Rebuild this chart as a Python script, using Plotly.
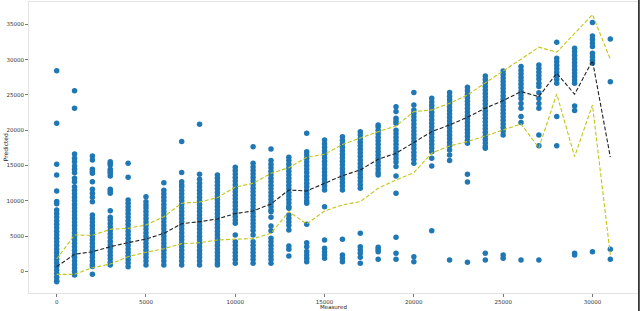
import plotly.graph_objects as go

# Measured values (x positions of the columns)
measured = [0, 1000, 2000, 3000, 4000, 5000, 6000, 7000, 8000, 9000, 10000,
            11000, 12000, 13000, 14000, 15000, 16000, 17000, 18000, 19000, 20000,
            21000, 22000, 23000, 24000, 25000, 26000, 27000, 28000, 29000, 30000, 31000]

# Predicted values per measured column
y_00000 = [28440, 20990, 15180, 13670, 11400, 9900, 9600, 8700, 8200, 7700, 7200, 6700, 6200, 5700, 5200, 4700, 4200, 3700, 3200, 2700, 2200, 1700, 1200, 700, 200, -300, -800, -1300, -1450]
y_01000 = [25600, 23100, 16640, 16030, 15550, 14940, 14470, 13990, 13200, 12720, 12010, 11500, 11000, 10500, 10000, 9500, 9000, 8500, 8000, 7500, 7000, 6500, 6000, 5500, 5000, 4500, 4000, 3500, 3000, 2500, 2000, 1500, 1000, 500, 0, -500]
y_02000 = [16360, 15790, 14470, 14200, 13900, 12720, 11640, 11080, 10510, 9890, 8000, 7500, 7000, 6500, 6000, 5500, 5000, 4500, 4000, 3500, 3000, 2500, 2000, 1500, 1000, 700, -400]
y_03000 = [15550, 15300, 15080, 14470, 14200, 13900, 13530, 11640, 11350, 11080, 8610, 7680, 7300, 6800, 6300, 5800, 5300, 4800, 4300, 3800, 3300, 2800, 2300, 1800, 1300, 920]
y_04000 = [15320, 13340, 10130, 9660, 9180, 8700, 8200, 7700, 7200, 6700, 6200, 5700, 5200, 4700, 4200, 3700, 3200, 2700, 2200, 1700, 1200, 680]
y_05000 = [10600, 9890, 9420, 9000, 8500, 8000, 7500, 7000, 6500, 6000, 5500, 5000, 4500, 4000, 3500, 3000, 2500, 2000, 1500, 920]
y_06000 = [12580, 11500, 11000, 10500, 10000, 9500, 9000, 8500, 8000, 7500, 7000, 6500, 6000, 5500, 5000, 4500, 4000, 3500, 3000, 2500, 2000, 1500, 920]
y_07000 = [18390, 14000, 12720, 12250, 12000, 11500, 11000, 10500, 10000, 9500, 9000, 8500, 8000, 7500, 7000, 6500, 6000, 5500, 5000, 4500, 4000, 3500, 3000, 2500, 2000, 1500, 920]
y_08000 = [20850, 13770, 13060, 12500, 12000, 11500, 11000, 10500, 10000, 9500, 9000, 8500, 8000, 7500, 7000, 6500, 6000, 5500, 5000, 4500, 4000, 3500, 3000, 2500, 2000, 1500, 920]
y_09000 = [13670, 13200, 12700, 12200, 11700, 11200, 10700, 10200, 9700, 9200, 8700, 8200, 7700, 7200, 6700, 6200, 5700, 5200, 4700, 4200, 3700, 3200, 2700, 2200, 1700, 1200, 920]
y_10000 = [14760, 14300, 13800, 13300, 12800, 12300, 11800, 11300, 10800, 10300, 9800, 9300, 8800, 8300, 7800, 7300, 6830, 5170, 4220, 3700, 3200, 2700, 2200, 1700, 1160]
y_11000 = [17680, 15320, 14800, 14300, 13800, 13300, 12800, 12300, 11800, 11300, 10800, 10300, 9800, 9300, 8800, 8300, 7800, 7300, 6800, 6300, 5800, 5170, 4220, 3700, 3200, 2700, 2200, 1700, 1160]
y_12000 = [17350, 15700, 15200, 14700, 14200, 13700, 13200, 12700, 12200, 11700, 11200, 10700, 10200, 9700, 9200, 8700, 8470, 7680, 6440, 5780, 4700, 4200, 3700, 3200, 2700, 2200, 1700, 1160]
y_13000 = [16170, 15700, 15200, 14700, 14200, 13700, 13200, 12700, 12200, 11700, 11200, 10700, 10200, 9700, 9200, 8950, 8000, 7500, 7000, 6500, 5880, 3610, 3140, 2200]
y_14000 = [19570, 16970, 16500, 16000, 15500, 15000, 14500, 14000, 13500, 13000, 12500, 12000, 11500, 11000, 10500, 10000, 9660, 6690, 4080, 3510, 2820, 2340, 1870, 1390]
y_15000 = [18630, 18100, 17600, 17100, 16600, 16100, 15600, 15100, 14600, 14100, 13600, 13100, 12600, 12100, 11540, 9180, 4460, 3290, 2800, 2340, 1870]
y_16000 = [19090, 18600, 18100, 17600, 17100, 16600, 16100, 15600, 15100, 14600, 14100, 13600, 13100, 12600, 12100, 11540, 4560, 2340, 1870, 1390]
y_17000 = [19800, 19330, 18800, 18300, 17800, 17300, 16800, 16300, 15800, 15300, 14800, 14300, 13800, 13300, 12800, 12300, 11780, 5410, 3520, 3050, 2580, 2010, 1160]
y_18000 = [20750, 20510, 20000, 19500, 19000, 18500, 18000, 17500, 17000, 16500, 16000, 15500, 15000, 14500, 14000, 13670, 3430, 3100, 2800, 1730]
y_19000 = [23340, 22640, 21700, 21300, 20990, 20000, 19500, 19000, 18500, 18000, 17500, 17000, 16500, 16000, 15500, 14850, 13530, 11080, 4840, 2580, 1730]
y_20000 = [25330, 23580, 22880, 22400, 21900, 21400, 20900, 20400, 19900, 19400, 18900, 18400, 17900, 17400, 16900, 16400, 15900, 15320, 2100, 1390]
y_21000 = [24530, 24000, 23500, 23000, 22500, 22000, 21500, 21000, 20500, 20000, 19500, 19000, 18500, 18000, 17500, 16970, 16030, 14940, 5780]
y_22000 = [25330, 24800, 24300, 23800, 23300, 22800, 22300, 21800, 21300, 20800, 20300, 19800, 19300, 18800, 18300, 17800, 17210, 16500, 15700, 1630]
y_23000 = [26090, 25600, 25100, 24600, 24100, 23600, 23100, 22600, 22100, 21600, 21100, 20600, 20100, 19600, 19100, 18600, 18160, 13770, 12680, 1300]
y_24000 = [27690, 27200, 26700, 26200, 25700, 25200, 24700, 24200, 23700, 23200, 22700, 22200, 21700, 21200, 20700, 20200, 19700, 19200, 18700, 18200, 17700, 17450, 2580, 1630]
y_25000 = [28400, 27900, 27400, 26900, 26400, 25900, 25400, 24900, 24400, 23900, 23400, 22900, 22400, 21900, 21400, 20900, 20400, 19900, 19330, 2340, 1870]
y_26000 = [29010, 28500, 28000, 27500, 27000, 26500, 26000, 25500, 25000, 24500, 23800, 23100, 21930, 21080, 1630]
y_27000 = [29250, 28750, 28250, 27750, 27250, 26650, 26180, 25300, 24500, 23800, 23120, 19330, 17820, 1630]
y_28000 = [32460, 30200, 29700, 29200, 28700, 28200, 27700, 27200, 26650, 21930, 17800]
y_29000 = [31610, 31100, 30600, 30100, 29600, 29100, 28600, 28100, 27600, 27100, 26650, 23440, 22780, 2580, 2340]
y_30000 = [35240, 33360, 32850, 32340, 31840, 30900, 30400, 29900, 29490, 2800]
y_31000 = [32930, 26880, 3140, 1730]

columns = [y_00000, y_01000, y_02000, y_03000, y_04000, y_05000, y_06000, y_07000,
           y_08000, y_09000, y_10000, y_11000, y_12000, y_13000, y_14000, y_15000,
           y_16000, y_17000, y_18000, y_19000, y_20000, y_21000, y_22000, y_23000,
           y_24000, y_25000, y_26000, y_27000, y_28000, y_29000, y_30000, y_31000]

# Summary lines per measured column
center_line = [680, 2440, 2800, 3510, 4080, 4600, 5400, 6770, 7050, 7440, 8200, 8570, 9560, 11540, 11400, 12490,
               13570, 14380, 15890, 16740, 18240, 19800, 20750, 21840, 23120, 24200, 25470, 24760, 28070, 25100, 29860, 16200]
upper_line = [1770, 5170, 5120, 5970, 6110, 6590, 7760, 9660, 9840, 10450, 11960, 12490, 13900, 14700, 16170, 16600,
              17990, 18950, 19800, 20610, 22640, 22880, 23820, 25000, 26740, 28400, 30060, 31760, 31050, 33740, 36370, 30060]
lower_line = [-400, -400, 540, 1060, 2100, 2720, 3230, 3940, 4080, 4460, 4580, 4650, 5410, 8470, 6730, 8570,
              9420, 9890, 11780, 12960, 14000, 16760, 17780, 18390, 19190, 20040, 20890, 17500, 25140, 16260, 23580, 2340]

xs, ys = [], []
for m, col in zip(measured, columns):
    xs.extend([m] * len(col))
    ys.extend(col)

fig = go.Figure()
fig.add_trace(go.Scatter(x=xs, y=ys, mode="markers",
                         marker=dict(color="#1f77b4", size=5.5, line=dict(width=0)),
                         showlegend=False, hoverinfo="skip"))
fig.add_trace(go.Scatter(x=measured, y=center_line, mode="lines",
                         line=dict(color="#222222", width=1.1, dash="4px,2px"), showlegend=False))
fig.add_trace(go.Scatter(x=measured, y=upper_line, mode="lines",
                         line=dict(color="#c4c41a", width=1.1, dash="4px,2px"), showlegend=False))
fig.add_trace(go.Scatter(x=measured, y=lower_line, mode="lines",
                         line=dict(color="#c4c41a", width=1.1, dash="4px,2px"), showlegend=False))

tickfont = dict(family="DejaVu Sans", size=5.5, color="#333333")
fig.update_layout(
    width=640, height=311,
    margin=dict(l=29, r=2, t=2, b=18, autoexpand=False),
    paper_bgcolor="white", plot_bgcolor="white",
    font=dict(family="DejaVu Sans"),
    xaxis=dict(range=[-1550, 32550], tickvals=[0, 5000, 10000, 15000, 20000, 25000, 30000],
               ticktext=["0", "5000", "10000", "15000", "20000", "25000", "30000"],
               ticks="outside", ticklen=3, tickwidth=0.8, tickcolor="#555555",
               showgrid=False, zeroline=False, showline=True, linecolor="#e3e3e3",
               linewidth=1, mirror=True, tickfont=tickfont, automargin=False),
    yaxis=dict(range=[-3044, 38157], tickvals=[0, 5000, 10000, 15000, 20000, 25000, 30000, 35000],
               ticktext=["0", "5000", "10000", "15000", "20000", "25000", "30000", "35000"],
               ticks="outside", ticklen=3, tickwidth=0.8, tickcolor="#555555",
               showgrid=False, zeroline=False, showline=True, linecolor="#e3e3e3",
               linewidth=1, mirror=True, tickfont=tickfont, automargin=False),
    annotations=[
        dict(text="Measured", xref="paper", yref="paper", x=0.5, y=-0.047,
             xanchor="center", yanchor="middle", showarrow=False,
             font=dict(family="DejaVu Sans", size=5.5, color="#222222")),
        dict(text="Predicted", xref="paper", yref="paper", x=-0.038, y=0.5,
             xanchor="center", yanchor="middle", showarrow=False, textangle=-90,
             font=dict(family="DejaVu Sans", size=6, color="#222222")),
    ],
    shapes=[dict(type="line", xref="paper", yref="paper", x0=1.0015, x1=1.0015,
                 y0=-0.07, y1=1.01, line=dict(color="#111111", width=1.5))],
)

fig.write_html("out.html", config={"displayModeBar": False, "staticPlot": True},
               post_script="document.body.style.margin='0';document.body.style.padding='0';document.body.style.overflow='hidden';")
